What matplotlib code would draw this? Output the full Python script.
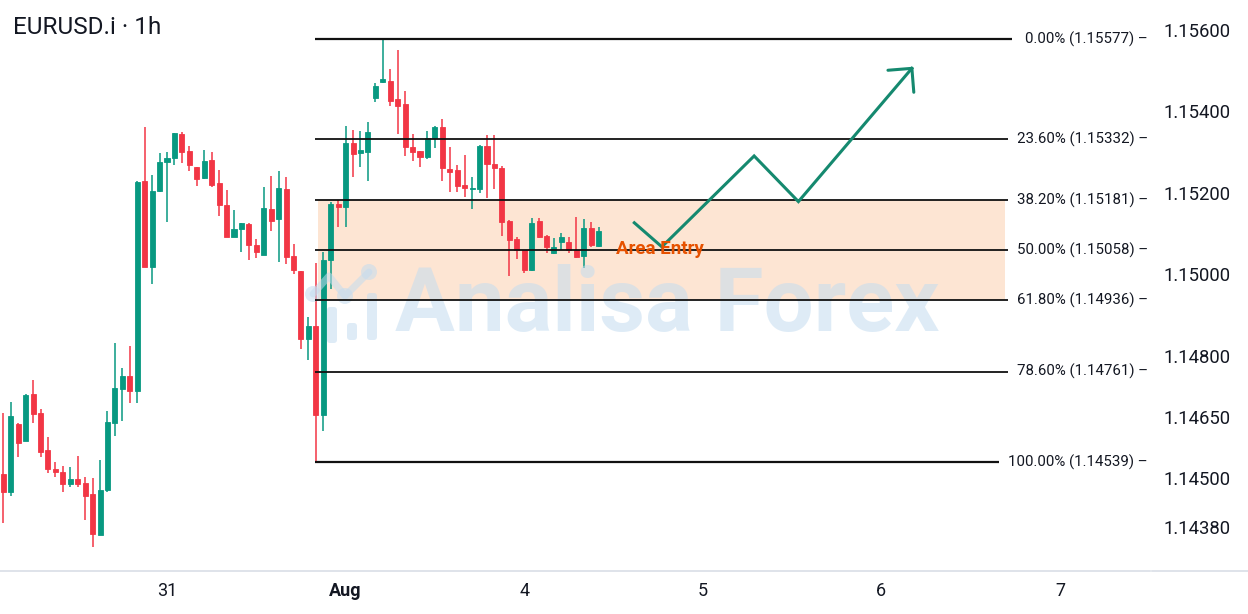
import numpy as np
import matplotlib.pyplot as plt
import matplotlib.transforms as mtransforms
from matplotlib.lines import Line2D
from matplotlib.patches import Circle, FancyBboxPatch

plt.rcParams['font.family'] = ['Roboto', 'DejaVu Sans']

# EURUSD.i 1h candles
opens = [1.14510, 1.14466, 1.14632, 1.14591, 1.14705, 1.14658, 1.14568, 1.14521, 1.14514, 1.14485,
         1.14497, 1.14487, 1.14460, 1.14359, 1.14470, 1.14634, 1.14717, 1.14750, 1.14714, 1.15228,
         1.15018, 1.15204, 1.15274, 1.15286, 1.15344, 1.15301, 1.15262, 1.15235, 1.15280, 1.15223,
         1.15169, 1.15090, 1.15110, 1.15124, 1.15071, 1.15047, 1.15161, 1.15135, 1.15208, 1.15044,
         1.15008, 1.14842, 1.14872, 1.14654, 1.15035, 1.15171, 1.15165, 1.15321, 1.15298, 1.15300,
         1.15433, 1.15472, 1.15474, 1.15430, 1.15417, 1.15313, 1.15302, 1.15287, 1.15333, 1.15361,
         1.15257, 1.15255, 1.15219, 1.15209, 1.15209, 1.15314, 1.15270, 1.15260, 1.15130, 1.15085,
         1.15058, 1.15010, 1.15130, 1.15094, 1.15051, 1.15080, 1.15080, 1.15058, 1.15045, 1.15114,
         1.15070]
highs = [1.14659, 1.14687, 1.14634, 1.14706, 1.14740, 1.14669, 1.14600, 1.14539, 1.14530, 1.14527,
         1.14554, 1.14501, 1.14499, 1.14544, 1.14664, 1.14830, 1.14770, 1.14824, 1.15229, 1.15360,
         1.15243, 1.15298, 1.15300, 1.15347, 1.15349, 1.15315, 1.15263, 1.15305, 1.15299, 1.15256,
         1.15206, 1.15157, 1.15126, 1.15126, 1.15085, 1.15213, 1.15241, 1.15253, 1.15239, 1.15073,
         1.15008, 1.14896, 1.15027, 1.15055, 1.15176, 1.15182, 1.15364, 1.15354, 1.15351, 1.15373,
         1.15468, 1.15577, 1.15503, 1.15550, 1.15450, 1.15344, 1.15303, 1.15352, 1.15364, 1.15380,
         1.15313, 1.15268, 1.15292, 1.15238, 1.15316, 1.15341, 1.15341, 1.15266, 1.15134, 1.15092,
         1.15059, 1.15137, 1.15137, 1.15095, 1.15088, 1.15100, 1.15092, 1.15140, 1.15135, 1.15129,
         1.15116]
lows = [1.14389, 1.14456, 1.14552, 1.14590, 1.14635, 1.14551, 1.14513, 1.14503, 1.14466, 1.14478,
        1.14478, 1.14397, 1.14331, 1.14359, 1.14466, 1.14603, 1.14640, 1.14684, 1.14684, 1.15018,
        1.14977, 1.15202, 1.15129, 1.15268, 1.15272, 1.15253, 1.15217, 1.15234, 1.15215, 1.15143,
        1.15090, 1.15090, 1.15055, 1.15035, 1.15039, 1.15046, 1.15107, 1.15030, 1.15024, 1.15000,
        1.14816, 1.14789, 1.14539, 1.14615, 1.14963, 1.15115, 1.15115, 1.15238, 1.15264, 1.15229,
        1.15423, 1.15470, 1.15413, 1.15343, 1.15290, 1.15278, 1.15262, 1.15282, 1.15309, 1.15229,
        1.15201, 1.15201, 1.15190, 1.15161, 1.15200, 1.15186, 1.15208, 1.15094, 1.14995, 1.15037,
        1.15004, 1.15008, 1.15088, 1.15053, 1.15050, 1.15058, 1.15053, 1.15039, 1.15014, 1.15067,
        1.15067]
closes = [1.14466, 1.14653, 1.14586, 1.14703, 1.14657, 1.14564, 1.14522, 1.14515, 1.14485, 1.14497,
          1.14485, 1.14456, 1.14362, 1.14470, 1.14637, 1.14721, 1.14750, 1.14714, 1.15226, 1.15018,
          1.15204, 1.15276, 1.15286, 1.15346, 1.15300, 1.15267, 1.15233, 1.15278, 1.15219, 1.15170,
          1.15090, 1.15111, 1.15125, 1.15071, 1.15054, 1.15162, 1.15131, 1.15211, 1.15043, 1.15009,
          1.14842, 1.14872, 1.14654, 1.15035, 1.15172, 1.15164, 1.15322, 1.15296, 1.15305, 1.15348,
          1.15462, 1.15478, 1.15426, 1.15413, 1.15311, 1.15300, 1.15288, 1.15333, 1.15362, 1.15260,
          1.15251, 1.15217, 1.15211, 1.15212, 1.15315, 1.15270, 1.15260, 1.15129, 1.15084, 1.15059,
          1.15010, 1.15126, 1.15092, 1.15066, 1.15067, 1.15090, 1.15059, 1.15043, 1.15114, 1.15071,
          1.15106]

fib_ratios = [0.0, 23.6, 38.2, 50.0, 61.8, 78.6, 100.0]
fib_prices = [1.15577, 1.15332, 1.15181, 1.15058, 1.14936, 1.14761, 1.14539]

price_ticks = [1.15600, 1.15400, 1.15200, 1.15000, 1.14800, 1.14650, 1.14500, 1.14380]
date_ticks = [22, 46, 70, 94, 118, 142]
date_labels = ['31', 'Aug', '4', '5', '6', '7']

# hand drawn projection (bar index, price)
path_x = [84.8, 88.5, 100.9, 106.85, 122.1]
path_y = [1.15126, 1.15067, 1.15290, 1.15178, 1.15505]

GREEN = '#089981'
RED = '#f23645'
TEXT = '#131722'

W, H = 1248, 614
fig = plt.figure(figsize=(W / 100, H / 100), dpi=100)
ax = fig.add_axes([0, 43 / H, 1150 / W, 571 / H])
ax.set_xlim(-0.444, 154.1)
ax.set_ylim(1.142715, 1.156727)

o = np.array(opens)
hi = np.array(highs)
lo = np.array(lows)
c = np.array(closes)
idx = np.arange(len(o))
up = c >= o
cols = np.where(up, GREEN, RED)

# candles
ax.vlines(idx, lo, hi, colors=cols, lw=1.1, zorder=2)
body_h = np.maximum(np.abs(c - o), 0.00003)
ax.bar(idx, body_h, bottom=np.minimum(o, c), width=0.68, color=cols,
       edgecolor=cols, lw=0.6, zorder=2)

# swing low the fib is anchored on
low_idx = int(np.argmin(np.abs(lo - fib_prices[-1])))

# entry zone (38.2 - 61.8)
ax.fill_between([low_idx + 0.3, 134.6], fib_prices[4], fib_prices[2],
                color='#fde5d3', lw=0, zorder=1)

# fib levels
for r, p in zip(fib_ratios, fib_prices):
    lw = 1.6 if r in (0.0, 100.0) else 1.3
    ax.hlines(p, low_idx - 0.1, 135.6, color='#111111', lw=lw, zorder=4)
    ax.text(1148 / 1150, p, f"{r:.2f}% ({p:.5f}) –", transform=ax.get_yaxis_transform(),
            ha='right', va='center', fontsize=10.8, color=TEXT, zorder=6,
            bbox=dict(boxstyle='square,pad=0.6', fc='white', ec='none'), clip_on=False)

# watermark
ax.text(667 / W, 1 - 306 / H, 'Analisa Forex', transform=fig.transFigure,
        ha='center', va='center', fontsize=64, fontweight='bold',
        color='#c4dcf0', alpha=0.55, zorder=3)
px = mtransforms.Affine2D().scale(1, -1).translate(0, H)
wm = dict(color='#c4dcf0', alpha=0.55, zorder=3, transform=px)
for bx, by0, by1 in [(332, 307, 343), (352, 323, 340), (372, 293, 340)]:
    ax.add_patch(FancyBboxPatch((bx - 5, by0), 10, by1 - by0,
                                boxstyle='round,pad=0,rounding_size=3', ec='none', **wm))
ax.add_line(Line2D([313, 329, 345, 369], [294, 276, 296, 272], lw=5, solid_capstyle='round', **wm))
for cx, cy in [(313, 294), (345, 296), (369, 272)]:
    ax.add_patch(Circle((cx, cy), 8, ec='none', **wm))

# projection arrow
ax.plot(path_x, path_y, color='#15896f', lw=2.2, zorder=7, solid_joinstyle='miter')
tip = ax.transData.transform((path_x[-1], path_y[-1]))
prev = ax.transData.transform((path_x[-2], path_y[-2]))
ang = np.arctan2(*(tip - prev)[::-1])
inv = ax.transData.inverted()
for da in (np.pi * 0.75, -np.pi * 0.75):
    wing = tip + 24 * np.array([np.cos(ang + da), np.sin(ang + da)])
    wx, wy = inv.transform(wing)
    ax.plot([path_x[-1], wx], [path_y[-1], wy], color='#15896f', lw=2.2, zorder=7,
            solid_capstyle='round')

ax.text(82.35, 1.15062, 'Area Entry', color='#e65100', fontweight='bold',
        fontsize=13.5, va='center', ha='left', zorder=8)

# axes styling
ax.yaxis.tick_right()
ax.set_yticks(price_ticks, [f"{v:.5f}" for v in price_ticks])
ax.tick_params(axis='y', length=0, pad=9.4, labelsize=13.3, labelcolor=TEXT)
ax.set_xticks(date_ticks, date_labels)
ax.tick_params(axis='x', length=0, pad=8, labelsize=13, labelcolor=TEXT)
ax.get_xticklabels()[1].set_fontweight('bold')
for s in ['top', 'left', 'right']:
    ax.spines[s].set_visible(False)
ax.spines['bottom'].set_color('#d9dee6')
ax.spines['bottom'].set_linewidth(1.2)
fig.add_artist(Line2D([1152 / W, 1], [43 / H, 43 / H], color='#d9dee6', lw=1.2))

fig.text(13 / W, 1 - 28 / H, 'EURUSD.i · 1h', fontsize=17.5, color=TEXT, va='center')

fig.savefig('out.png', dpi=100)
